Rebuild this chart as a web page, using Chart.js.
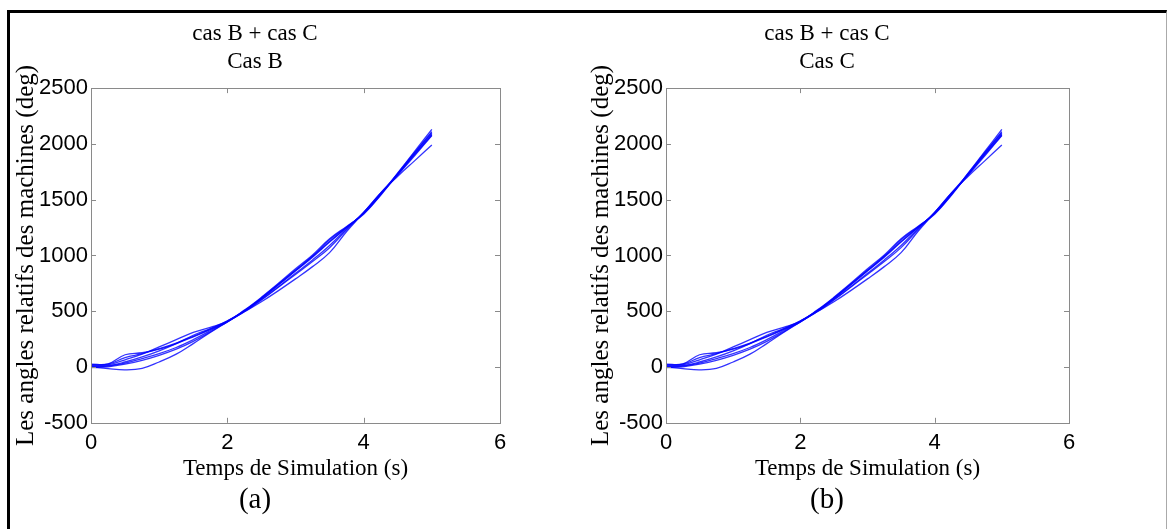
<!DOCTYPE html>
<html>
<head>
<meta charset="utf-8">
<script src="https://cdn.jsdelivr.net/npm/chart.js@4.4.1/dist/chart.umd.min.js"></script>
<style>
  html, body { margin: 0; padding: 0; background: #fff; }
  body { width: 1167px; height: 529px; position: relative; overflow: hidden; }
  #cadre { position: absolute; left: 7px; top: 10px; width: 1156px; height: 530px;
           border-left: 3px solid #000; border-top: 3px solid #000; border-right: 1px solid #aaa; }
  .panneau { position: absolute; top: 13px; height: 516px; }
  #p-a { left: 10px; width: 570px; }
  #p-b { left: 585px; width: 575px; }
</style>
</head>
<body>
<div id="cadre"></div>
<div class="panneau" id="p-a"><canvas id="cas-b"></canvas></div>
<div class="panneau" id="p-b"><canvas id="cas-c"></canvas></div>
<script>
// temps de simulation (s)
var temps = [0, 0.25, 0.5, 0.75, 1, 1.25, 1.5, 1.75, 2, 2.25, 2.5, 2.75, 3, 3.25, 3.5, 3.75, 4, 4.25, 4.5, 4.75, 5];

// angles relatifs des machines (deg)
var machine1 = [0, -15, -25, -12, 45, 115, 210, 310, 405, 495, 585, 685, 790, 900, 1025, 1215, 1385, 1560, 1710, 1850, 1990];
var machine2 = [25, 28, 110, 128, 160, 210, 270, 335, 405, 505, 620, 745, 870, 995, 1140, 1255, 1375, 1545, 1740, 1935, 2130];
var machine3 = [15, 20, 65, 115, 180, 245, 310, 355, 410, 510, 625, 750, 880, 1005, 1150, 1260, 1370, 1540, 1730, 1920, 2110];
var machine4 = [5, 12, 45, 90, 145, 210, 285, 345, 415, 505, 615, 735, 860, 985, 1120, 1250, 1380, 1550, 1725, 1910, 2090];
var machine5 = [0, 8, 35, 75, 120, 175, 245, 325, 410, 500, 605, 720, 840, 960, 1090, 1240, 1385, 1555, 1720, 1895, 2075];
var machine6 = [-5, 2, 25, 60, 105, 160, 230, 315, 405, 495, 600, 715, 830, 945, 1070, 1230, 1385, 1560, 1730, 1905, 2080];
var machine7 = [20, 25, 85, 120, 165, 215, 275, 340, 410, 505, 615, 740, 865, 990, 1125, 1250, 1378, 1548, 1735, 1925, 2100];

var machines = [machine1, machine2, machine3, machine4, machine5, machine6, machine7];

var ticksX = [0, 2, 4, 6];
var ticksY = [-500, 0, 500, 1000, 1500, 2000, 2500];

// petits traits vers l'intérieur + cadre gris (style matlab)
const cadreMatlab = {
    id: 'cadreMatlab',
    afterDatasetsDraw: function (chart) {
        var ctx = chart.ctx;
        var a = chart.chartArea;
        var sx = chart.scales.x, sy = chart.scales.y;
        ctx.save();
        ctx.strokeStyle = '#8a8a8a';
        ctx.lineWidth = 1;
        ctx.strokeRect(Math.round(a.left) + 0.5, Math.round(a.top) + 0.5, Math.round(a.right - a.left), Math.round(a.bottom - a.top));
        ctx.beginPath();
        ticksX.forEach(function (v) {
            var px = Math.round(sx.getPixelForValue(v)) + 0.5;
            ctx.moveTo(px, a.bottom); ctx.lineTo(px, a.bottom - 5);
            ctx.moveTo(px, a.top); ctx.lineTo(px, a.top + 5);
        });
        ticksY.forEach(function (v) {
            var py = Math.round(sy.getPixelForValue(v)) + 0.5;
            ctx.moveTo(a.left, py); ctx.lineTo(a.left + 5, py);
            ctx.moveTo(a.right, py); ctx.lineTo(a.right - 5, py);
        });
        ctx.stroke();
        ctx.restore();
    }
};

function faireGraphique(id, sousTitre, lettre, droite) {
    var ctx = document.getElementById(id).getContext('2d');
    var datasets = machines.map(function (m, i) {
        return {
            label: 'machine ' + (i + 1),
            data: temps.map(function (t, k) { return { x: t, y: m[k] }; }),
            borderColor: 'rgba(0, 0, 255, 0.8)',
            borderWidth: 1.3,
            pointRadius: 0,
            tension: 0.4,
            fill: false
        };
    });
    return new Chart(ctx, {
        type: 'line',
        data: { datasets: datasets },
        plugins: [cadreMatlab],
        options: {
            responsive: true,
            maintainAspectRatio: false,
            animation: false,
            layout: { padding: { left: 0, right: droite, top: 0, bottom: 0 } },
            plugins: {
                legend: { display: false },
                tooltip: { enabled: false },
                title: {
                    display: true,
                    text: ['cas B + cas C', sousTitre],
                    color: '#000',
                    font: { family: 'Liberation Serif', size: 23, weight: 'normal', lineHeight: 1.22 },
                    padding: { top: 7, bottom: 12 }
                },
                subtitle: {
                    display: true,
                    position: 'bottom',
                    text: lettre,
                    color: '#000',
                    font: { family: 'Liberation Serif', size: 29, weight: 'normal', lineHeight: 1.2 },
                    padding: { top: 2, bottom: 11 }
                }
            },
            scales: {
                x: {
                    type: 'linear',
                    min: 0, max: 6,
                    afterBuildTicks: function (s) { s.ticks = ticksX.map(function (v) { return { value: v }; }); },
                    afterFit: function (s) { s.height = 58.4; },
                    grid: { display: false, drawTicks: false },
                    border: { display: false },
                    ticks: {
                        color: '#000', padding: 7,
                        font: { family: 'Liberation Sans', size: 22 },
                        callback: function (v) { return String(v); }
                    },
                    title: {
                        display: true,
                        text: 'Temps de Simulation (s)',
                        color: '#000',
                        font: { family: 'Liberation Serif', size: 23, lineHeight: 1.1 },
                        padding: { top: 0, bottom: 0 }
                    }
                },
                y: {
                    type: 'linear',
                    min: -500, max: 2500,
                    afterBuildTicks: function (s) { s.ticks = ticksY.map(function (v) { return { value: v }; }); },
                    afterFit: function (s) { s.width = 81; },
                    grid: { display: false, drawTicks: false },
                    border: { display: false },
                    ticks: {
                        color: '#000', padding: 3,
                        font: { family: 'Liberation Sans', size: 22 },
                        callback: function (v) { return String(v); }
                    },
                    title: {
                        display: true,
                        text: 'Les angles relatifs des machines (deg)',
                        color: '#000',
                        font: { family: 'Liberation Serif', size: 25, lineHeight: 1.2 },
                        padding: { top: 1, bottom: 0 }
                    }
                }
            }
        }
    });
}

faireGraphique('cas-b', 'Cas B', '(a)', 80);
faireGraphique('cas-c', 'Cas C', '(b)', 91);
</script>
</body>
</html>
